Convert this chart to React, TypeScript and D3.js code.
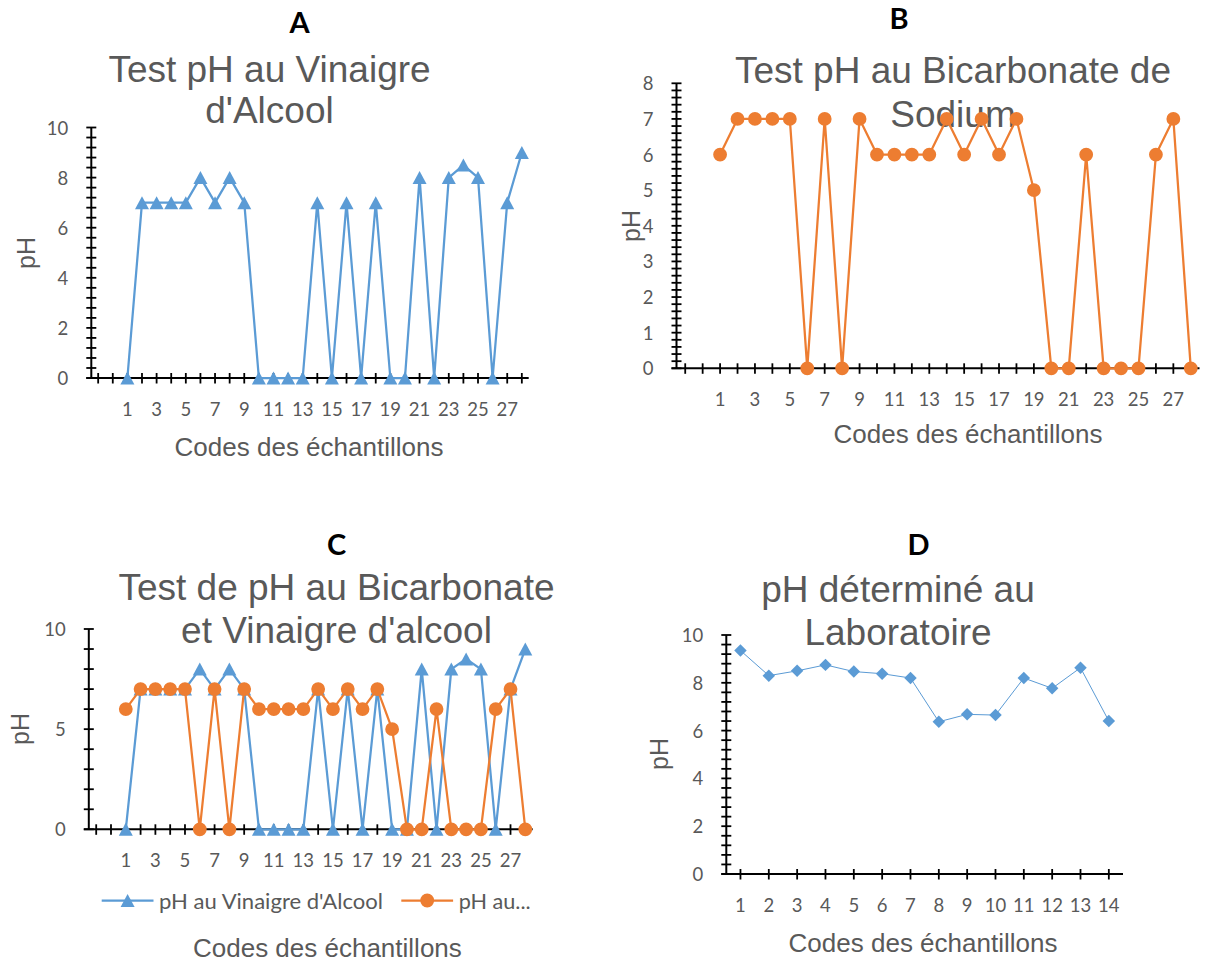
import React from "react";
import * as d3 from "d3";

// codes des échantillons (two empty categories sit before "1" on the A/B/C axes)
const leadingBlanks = ["", ""];
const sampleCodes = [
  "1", "2", "3", "4", "5", "6", "7", "8", "9", "10", "11", "12", "13", "14",
  "15", "16", "17", "18", "19", "20", "21", "22", "23", "24", "25", "26", "27", "28"
];
const labCodes = ["1", "2", "3", "4", "5", "6", "7", "8", "9", "10", "11", "12", "13", "14"];

const phVinaigre = [0, 7, 7, 7, 7, 8, 7, 8, 7, 0, 0, 0, 0, 7, 0, 7, 0, 7, 0, 0, 8, 0, 8, 8.5, 8, 0, 7, 9];
const phBicarbonate = [6, 7, 7, 7, 7, 0, 7, 0, 7, 6, 6, 6, 6, 7, 6, 7, 6, 7, 5, 0, 0, 6, 0, 0, 0, 6, 7, 0];
const phLaboratoire = [9.35, 8.3, 8.5, 8.75, 8.47, 8.38, 8.2, 6.37, 6.68, 6.65, 8.2, 7.77, 8.63, 6.4];

const yTicksA = [0, 2, 4, 6, 8, 10];
const yTicksB = [0, 1, 2, 3, 4, 5, 6, 7, 8];
const yTicksC = [0, 5, 10];
const yTicksD = [0, 2, 4, 6, 8, 10];

const legendNames = ["pH au Vinaigre d'Alcool", "pH au..."];

const BLUE = "#5B9BD5";
const ORANGE = "#ED7D31";
const GREY = "#595959";
const ARIAL = "'Liberation Sans', Arial, sans-serif";
const CALIBRI = "Lato, 'Open Sans', sans-serif";

type Marker = "triangle" | "circle" | "diamond";
type Series = { values: number[]; color: string; marker: Marker; width: number };

function markerPath(m: Marker) {
  if (m === "circle") return d3.symbol(d3.symbolCircle, 150)()!;
  if (m === "diamond") return d3.symbol(d3.symbolSquare, 78)()!;
  // excel style triangle, centered on its box
  const w = 14, h = 13;
  return `M0,${-h / 2}L${w / 2},${h / 2}L${-w / 2},${h / 2}Z`;
}

type PanelProps = {
  letter: string;
  letterPos: [number, number];
  title: string[];
  titlePos: [number, number, number];
  labels: string[];
  series: Series[];
  yTicks: number[];
  yMinor: number;
  plot: { x0: number; x1: number; y0: number; y1: number; padding: number };
  labelEvery: number;
  xTitlePos: [number, number];
  yTitlePos: [number, number];
  legend?: React.ReactNode;
};

function Panel(p: PanelProps) {
  const { x0, x1, y0, y1, padding } = p.plot;
  const keys = p.labels.map((_, i) => i);
  const x = d3.scalePoint<number>().domain(keys).range([x0, x1]).padding(padding);
  const yMax = d3.max(p.yTicks)!;
  const y = d3.scaleLinear().domain([0, yMax]).range([y0, y1]);
  const minor = d3.range(0, yMax + p.yMinor / 2, p.yMinor);

  return (
    <g>
      <text x={p.letterPos[0]} y={p.letterPos[1]} textAnchor="middle" fontFamily={CALIBRI}
        fontWeight={700} fontSize={29} fill="#000">{p.letter}</text>
      {p.title.map((t, i) => (
        <text key={i} x={p.titlePos[0]} y={p.titlePos[1 + i]} textAnchor="middle"
          fontFamily={ARIAL} fontSize={37} fill={GREY}>{t}</text>
      ))}

      {/* y axis */}
      <line x1={x0} x2={x0} y1={y0} y2={y1} stroke="#000" strokeWidth={2} />
      {minor.map((v, i) => (
        <line key={i} x1={x0 - 5} x2={x0 + 5} y1={y(v)} y2={y(v)} stroke="#000" strokeWidth={1.8} />
      ))}
      {p.yTicks.map((v) => (
        <text key={v} x={x0 - 23} y={y(v)} dominantBaseline="central" textAnchor="end"
          fontFamily={CALIBRI} fontSize={18.5} fill={GREY}>{v}</text>
      ))}

      {/* x axis */}
      <line x1={x0 - 5} x2={x1} y1={y0} y2={y0} stroke="#000" strokeWidth={2} />
      {keys.map((k) => (
        <line key={k} x1={x(k)} x2={x(k)} y1={y0 - 5} y2={y0 + 5.5} stroke="#000" strokeWidth={1.8} />
      ))}
      {keys.filter((k) => k % p.labelEvery === 0).map((k) => (
        <text key={k} x={x(k)} y={y0 + 38} textAnchor="middle" fontFamily={CALIBRI}
          fontSize={18.5} fill={GREY}>{p.labels[k]}</text>
      ))}

      {/* axis titles */}
      <text x={p.xTitlePos[0]} y={p.xTitlePos[1]} textAnchor="middle" fontFamily={ARIAL}
        fontSize={26} fill={GREY}>Codes des échantillons</text>
      <text transform={`translate(${p.yTitlePos[0]},${p.yTitlePos[1]}) rotate(-90)`}
        textAnchor="middle" dominantBaseline="central" fontFamily={ARIAL} fontSize={25}
        fill={GREY}>pH</text>

      {/* series */}
      {p.series.map((s, si) => {
        const offset = p.labels.length - s.values.length;
        const line = d3.line<number>().x((_, i) => x(i + offset)!).y((d) => y(d));
        const path = markerPath(s.marker);
        return (
          <g key={si}>
            <path d={line(s.values)!} fill="none" stroke={s.color} strokeWidth={s.width}
              strokeLinejoin="round" />
            {s.values.map((v, i) => (
              <path key={i} d={path} fill={s.color}
                transform={`translate(${x(i + offset)},${y(v)})${s.marker === "diamond" ? " rotate(45)" : ""}`} />
            ))}
          </g>
        );
      })}
      {p.legend}
    </g>
  );
}

function LegendC() {
  const cy = 900.5;
  return (
    <g>
      <line x1={101.7} x2={153.5} y1={cy} y2={cy} stroke={BLUE} strokeWidth={2.25} />
      <path d={markerPath("triangle")} fill={BLUE} transform={`translate(127.6,${cy})`} />
      <text x={159} y={cy} dominantBaseline="central" fontFamily={CALIBRI} fontSize={21}
        textLength={224} lengthAdjust="spacingAndGlyphs" fill={GREY}>{legendNames[0]}</text>
      <line x1={401.3} x2={453.1} y1={cy} y2={cy} stroke={ORANGE} strokeWidth={2.25} />
      <path d={markerPath("circle")} fill={ORANGE} transform={`translate(427.2,${cy})`} />
      <text x={458.7} y={cy} dominantBaseline="central" fontFamily={CALIBRI} fontSize={21}
        textLength={72} lengthAdjust="spacingAndGlyphs" fill={GREY}>{legendNames[1]}</text>
    </g>
  );
}

export default function App() {
  const labelsABC = [...leadingBlanks, ...sampleCodes];
  return (
    <svg width={1209} height={964} viewBox="0 0 1209 964"
      style={{ position: "absolute", left: 0, top: 0, background: "#fff" }}>
      <rect width={1209} height={964} fill="#fff" />
      <Panel
        letter="A" letterPos={[299.6, 33]}
        title={["Test pH au Vinaigre", "d'Alcool"]} titlePos={[269.5, 81.7, 123.3]}
        labels={labelsABC}
        series={[{ values: phVinaigre, color: BLUE, marker: "triangle", width: 2.25 }]}
        yTicks={yTicksA} yMinor={0.4}
        plot={{ x0: 91.3, x1: 528.7, y0: 378, y1: 127.5, padding: 0.47 }}
        labelEvery={2}
        xTitlePos={[309, 456]} yTitlePos={[25.8, 253]}
      />
      <Panel
        letter="B" letterPos={[899, 28.5]}
        title={["Test pH au Bicarbonate de", "Sodium"]} titlePos={[953, 83.3, 126.7]}
        labels={labelsABC}
        series={[{ values: phBicarbonate, color: ORANGE, marker: "circle", width: 2.25 }]}
        yTicks={yTicksB} yMinor={0.2}
        plot={{ x0: 676.5, x1: 1199.5, y0: 368.3, y1: 83.3, padding: 0.5 }}
        labelEvery={2}
        xTitlePos={[968, 443]} yTitlePos={[631, 226]}
      />
      <Panel
        letter="C" letterPos={[336.6, 555]}
        title={["Test de pH au Bicarbonate", "et Vinaigre d'alcool"]} titlePos={[336.5, 600, 643.3]}
        labels={labelsABC}
        series={[
          { values: phVinaigre, color: BLUE, marker: "triangle", width: 2.25 },
          { values: phBicarbonate, color: ORANGE, marker: "circle", width: 2.25 }
        ]}
        yTicks={yTicksC} yMinor={1}
        plot={{ x0: 88.8, x1: 532.7, y0: 829.3, y1: 629, padding: 0.5 }}
        labelEvery={2}
        xTitlePos={[327.4, 957]} yTitlePos={[20.3, 729]}
        legend={<LegendC />}
      />
      <Panel
        letter="D" letterPos={[918.6, 555]}
        title={["pH déterminé au", "Laboratoire"]} titlePos={[898, 601.7, 645]}
        labels={labCodes}
        series={[{ values: phLaboratoire, color: BLUE, marker: "diamond", width: 1 }]}
        yTicks={yTicksD} yMinor={0.4}
        plot={{ x0: 726.3, x1: 1123, y0: 874, y1: 635, padding: 0.5 }}
        labelEvery={1}
        xTitlePos={[923, 952]} yTitlePos={[659.4, 754]}
      />
    </svg>
  );
}
